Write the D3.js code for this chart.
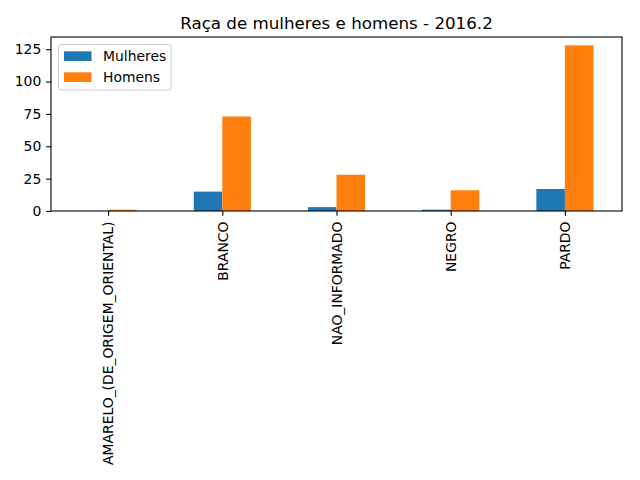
<!DOCTYPE html>
<html><head><meta charset="utf-8">
<script src="https://cdn.jsdelivr.net/npm/d3@7"></script>
<style>body{margin:0;background:#fff}svg{display:block}</style>
</head><body>
<svg id="c" width="640" height="480"></svg>
<script>
const categories = ["AMARELO_(DE_ORIGEM_ORIENTAL)", "BRANCO", "NAO_INFORMADO", "NEGRO", "PARDO"];
const mulheres = [0, 15, 3, 1, 17];
const homens = [1, 73, 28, 16, 128];
const seriesNames = ["Mulheres", "Homens"];
const colors = ["#1f77b4", "#ff7f0e"];
const yTicks = [0, 25, 50, 75, 100, 125];
const title = "Raça de mulheres e homens - 2016.2";

const svg = d3.select("#c");
const font = "DejaVu Sans, sans-serif";
const L = 51, R = 622, T = 37, B = 211;

const x = d3.scaleLinear().domain([-0.5, categories.length - 0.5]).range([L, R]);
const ymax = d3.max(homens.concat(mulheres)) * 1.05;
const y = d3.scaleLinear().domain([0, ymax]).range([B, T]);

const data = [mulheres, homens];
const bw = 0.25;
data.forEach((vals, si) => {
  svg.append("g").selectAll("rect").data(vals).join("rect")
    .attr("x", (d, i) => x(i - bw + si * bw))
    .attr("width", x(bw) - x(0))
    .attr("y", d => y(d))
    .attr("height", d => y(0) - y(d))
    .attr("fill", colors[si]);
});

// axes
const yAxis = d3.axisLeft(y).tickValues(yTicks).tickSize(4.86).tickPadding(4.86);
const gy = svg.append("g").attr("transform", `translate(${L},0)`).call(yAxis);
gy.select(".domain").remove();
gy.selectAll("text").attr("font-family", font).attr("font-size", "13.9px").attr("fill", "#000");
gy.selectAll("line").attr("stroke", "#000").attr("stroke-width", 1.1);

const xAxis = d3.axisBottom(x).tickValues(d3.range(categories.length)).tickFormat(i => categories[i]).tickSize(4.86).tickPadding(4.86);
const gx = svg.append("g").attr("transform", `translate(0,${B})`).call(xAxis);
gx.select(".domain").remove();
gx.selectAll("line").attr("stroke", "#000").attr("stroke-width", 1.1);
gx.selectAll("text")
  .attr("font-family", font).attr("font-size", "13.9px").attr("fill", "#000")
  .attr("transform", "rotate(-90)")
  .attr("text-anchor", "end")
  .attr("x", -10.5).attr("y", 0).attr("dy", "0.35em");

// frame
svg.append("rect").attr("x", L).attr("y", T).attr("width", R - L).attr("height", B - T)
  .attr("fill", "none").attr("stroke", "#000").attr("stroke-width", 1.1);

// title
svg.append("text").attr("x", (L + R) / 2).attr("y", 29).attr("text-anchor", "middle")
  .attr("font-family", font).attr("font-size", "16.7px").text(title);

// legend
const lg = svg.append("g");
lg.append("rect").attr("x", 58.5).attr("y", 44.5).attr("width", 112.5).attr("height", 45.5)
  .attr("rx", 2.5).attr("fill", "#fff").attr("fill-opacity", 0.8).attr("stroke", "#ccc").attr("stroke-width", 1);
seriesNames.forEach((n, i) => {
  const yy = 51.3 + i * 21;
  lg.append("rect").attr("x", 64).attr("y", yy).attr("width", 27.5).attr("height", 9.7).attr("fill", colors[i]);
  lg.append("text").attr("x", 103).attr("y", yy + 4.85).attr("dy", "0.35em")
    .attr("font-family", font).attr("font-size", "13.9px").attr("fill", "#000").text(n);
});
</script>
</body></html>
